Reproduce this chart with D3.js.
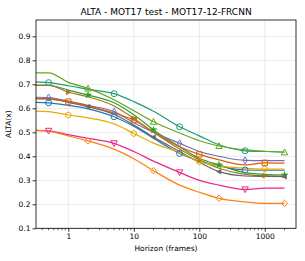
<!DOCTYPE html>
<html><head><meta charset="utf-8">
<script src="https://cdn.jsdelivr.net/npm/d3@7"></script>
<style>body{margin:0;background:#fff}svg{display:block}text{font-family:"DejaVu Sans",sans-serif}</style>
</head><body>
<script>
const horizons = [0.32, 0.5, 1, 2, 5, 10, 20, 50, 100, 200, 500, 1000, 2000];
const xTicks = [1, 10, 100, 1000];
const yTicks = [0.1, 0.2, 0.3, 0.4, 0.5, 0.6, 0.7, 0.8, 0.9];
const teal      = [0.710, 0.707, 0.694, 0.679, 0.661, 0.628, 0.588, 0.523, 0.485, 0.448, 0.423, 0.420, 0.418];
const lightGreen= [0.748, 0.748, 0.708, 0.683, 0.636, 0.590, 0.544, 0.497, 0.465, 0.443, 0.427, 0.421, 0.417];
const green     = [0.695, 0.695, 0.676, 0.655, 0.623, 0.573, 0.510, 0.440, 0.392, 0.364, 0.332, 0.325, 0.322];
const brown     = [0.697, 0.697, 0.667, 0.648, 0.610, 0.558, 0.500, 0.430, 0.385, 0.350, 0.325, 0.319, 0.318];
const purple    = [0.646, 0.645, 0.630, 0.612, 0.586, 0.540, 0.500, 0.454, 0.420, 0.400, 0.383, 0.382, 0.382];
const gray      = [0.640, 0.640, 0.625, 0.607, 0.575, 0.530, 0.480, 0.420, 0.375, 0.336, 0.318, 0.316, 0.315];
const orangeSq  = [0.640, 0.638, 0.628, 0.610, 0.580, 0.551, 0.500, 0.440, 0.408, 0.385, 0.364, 0.373, 0.372];
const blue      = [0.625, 0.623, 0.612, 0.598, 0.565, 0.525, 0.475, 0.412, 0.380, 0.360, 0.343, 0.342, 0.342];
const yellow    = [0.588, 0.586, 0.572, 0.560, 0.535, 0.495, 0.455, 0.415, 0.378, 0.360, 0.350, 0.347, 0.347];
const pink      = [0.508, 0.506, 0.490, 0.475, 0.454, 0.420, 0.380, 0.333, 0.300, 0.280, 0.262, 0.267, 0.267];
const orange    = [0.508, 0.505, 0.485, 0.464, 0.430, 0.390, 0.340, 0.280, 0.250, 0.225, 0.210, 0.204, 0.204];

const series = [
  {v: teal, c: "#1b9e77", m: "circle", fill: false, at: [0.5, 5, 50, 500]},
  {v: lightGreen, c: "#66a61e", m: "triangle", fill: false, at: [2, 20, 200, 2000]},
  {v: green, c: "#2ca02c", m: "star", fill: true, at: [2, 20, 200, 2000]},
  {v: brown, c: "#a6761d", m: "triR", fill: true, at: [1, 10, 100, 1000]},
  {v: purple, c: "#7570b3", m: "thinDiamond", fill: false, at: [0.5, 5, 50, 500]},
  {v: gray, c: "#666666", m: "triL", fill: true, at: [2, 20, 200, 2000]},
  {v: orangeSq, c: "#d95f02", m: "square", fill: false, at: [1, 10, 100, 1000]},
  {v: blue, c: "#1f77b4", m: "circle", fill: false, at: [0.5, 5, 50, 500]},
  {v: yellow, c: "#e6ab02", m: "hex", fill: false, at: [1, 10, 100, 1000]},
  {v: pink, c: "#e7298a", m: "triDown", fill: false, at: [0.5, 5, 50, 500]},
  {v: orange, c: "#ff7f0e", m: "diamond", fill: false, at: [2, 20, 200, 2000]}
];

const W = 305, H = 261;
const L = 36, R = 296, T = 20, B = 228.3;
const svg = d3.select("body").append("svg").attr("width", W).attr("height", H);
const x = d3.scaleLog().domain([0.321, 2994]).range([L, R]);
const y = d3.scaleLinear().domain([0.1, 0.968]).range([B, T]);

svg.append("g").selectAll("line").data(yTicks).join("line")
  .attr("x1", L).attr("x2", R).attr("y1", d => y(d)).attr("y2", d => y(d))
  .attr("stroke", "#e5e5e5").attr("stroke-width", 0.8);
svg.append("g").selectAll("line").data(xTicks).join("line")
  .attr("y1", T).attr("y2", B).attr("x1", d => x(d)).attr("x2", d => x(d))
  .attr("stroke", "#e5e5e5").attr("stroke-width", 0.8);

const line = d3.line().x((d, i) => x(horizons[i])).y(d => y(d)).curve(d3.curveMonotoneX);
const plot = svg.append("g");
function markerPath(m) {
  const s = 3.2, f = 2.4;
  switch (m) {
    case "circle": return d3.symbol(d3.symbolCircle, 28)();
    case "square": return d3.symbol(d3.symbolSquare, 28)();
    case "star": return d3.symbol(d3.symbolStar, 14)();
    case "diamond": return `M0,${-s}L${s},0L0,${s}L${-s},0Z`;
    case "thinDiamond": return `M0,${-s*1.1}L${s*0.65},0L0,${s*1.1}L${-s*0.65},0Z`;
    case "triangle": return `M0,${-s}L${s},${s*0.8}L${-s},${s*0.8}Z`;
    case "triDown": return `M0,${s}L${s},${-s*0.8}L${-s},${-s*0.8}Z`;
    case "triR": return `M${f},0L${-f*0.8},${f}L${-f*0.8},${-f}Z`;
    case "triL": return `M${-f},0L${f*0.8},${f}L${f*0.8},${-f}Z`;
    case "hex": { const r = 3; let p = ""; for (let k = 0; k < 6; k++) { const a = Math.PI/2 + k*Math.PI/3; p += (k ? "L" : "M") + (r*Math.cos(a)).toFixed(2) + "," + (r*Math.sin(a)).toFixed(2); } return p + "Z"; }
  }
}
series.forEach(s => {
  plot.append("path").attr("d", line(s.v)).attr("fill", "none")
    .attr("stroke", s.c).attr("stroke-width", 1.2);
});
series.forEach(s => {
  const pts = s.at.map(h => [x(h), y(s.v[horizons.indexOf(h)])]);
  plot.selectAll(null).data(pts).join("path")
    .attr("transform", d => `translate(${d[0]},${d[1]})`)
    .attr("d", markerPath(s.m))
    .attr("fill", s.fill ? s.c : "none")
    .attr("stroke", s.c).attr("stroke-width", s.fill ? 0.6 : 1);
});

const xAxis = d3.axisBottom(x).tickValues(xTicks).tickFormat(d3.format("d")).tickSize(3.5).tickPadding(2);
const gx = svg.append("g").attr("transform", `translate(0,${B})`).call(xAxis);
gx.select(".domain").remove();
gx.selectAll("text").attr("font-size", 7.5).attr("fill", "#000").attr("font-family", "DejaVu Sans");
gx.selectAll("line").attr("stroke", "#000").attr("stroke-width", 0.8);
const minors = [];
for (let e = -1; e <= 3; e++) for (let k = 2; k <= 9; k++) { const v = k * Math.pow(10, e); if (v > 0.321 && v < 2994) minors.push(v); }
svg.append("g").selectAll("line").data(minors).join("line")
  .attr("x1", d => x(d)).attr("x2", d => x(d)).attr("y1", B).attr("y2", B + 2)
  .attr("stroke", "#000").attr("stroke-width", 0.6);

const yAxis = d3.axisLeft(y).tickValues(yTicks).tickFormat(d3.format(".1f")).tickSize(3.5).tickPadding(2);
const gy = svg.append("g").attr("transform", `translate(${L},0)`).call(yAxis);
gy.select(".domain").remove();
gy.selectAll("text").attr("font-size", 7.5).attr("fill", "#000").attr("font-family", "DejaVu Sans");
gy.selectAll("line").attr("stroke", "#000").attr("stroke-width", 0.8);

svg.append("rect").attr("x", L).attr("y", T).attr("width", R - L).attr("height", B - T)
  .attr("fill", "none").attr("stroke", "#000").attr("stroke-width", 0.8);

svg.append("text").attr("x", (L + R) / 2).attr("y", 15).attr("text-anchor", "middle")
  .attr("font-size", 9).text("ALTA - MOT17 test - MOT17-12-FRCNN");
svg.append("text").attr("x", (L + R) / 2).attr("y", 251).attr("text-anchor", "middle")
  .attr("font-size", 7.5).text("Horizon (frames)");
svg.append("text").attr("transform", `translate(11,${(T + B) / 2}) rotate(-90)`).attr("text-anchor", "middle")
  .attr("font-size", 7.5).text("ALTA(x)");
</script>
</body></html>
